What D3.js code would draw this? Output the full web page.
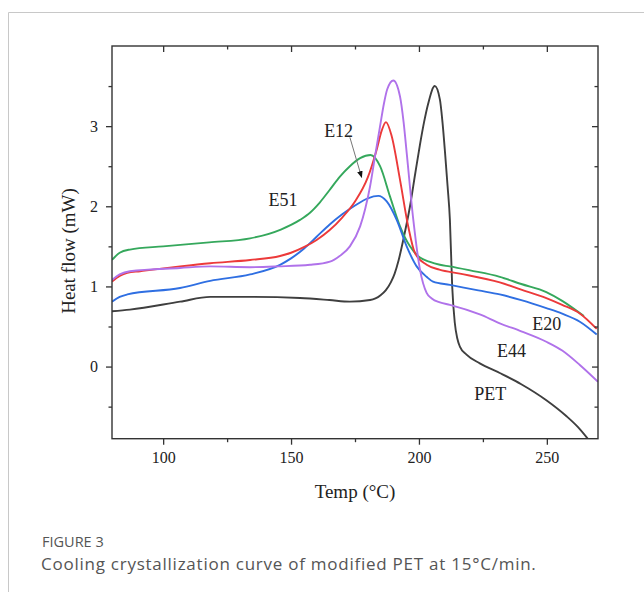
<!DOCTYPE html>
<html>
<head>
  <meta charset="UTF-8">
  <title>Cooling crystallization curve of modified PET</title>
  <script src="https://d3js.org/d3.v7.min.js"></script>
  <style>
    body { margin: 0; background: #fff; }
    svg text { font-family: "Liberation Serif", "Times New Roman", serif; }
  </style>
</head>
<body>
<div id="chart"></div>
<script>
// values (temperature in °C, heat flow in mW)
const e51X = [80, 83, 87, 100, 118, 134, 146, 153.5, 157.4, 161.3, 165, 169.1, 173, 177, 181.1, 184.8, 188.7, 192.6, 196.5, 200.4, 204, 208.2, 212, 220, 231.6, 240, 249.8, 256, 264.5];
const e51Y = [1.33, 1.42, 1.46, 1.50, 1.55, 1.60, 1.71, 1.83, 1.92, 2.05, 2.2, 2.37, 2.5, 2.6, 2.64, 2.5, 2.12, 1.75, 1.50, 1.36, 1.31, 1.27, 1.25, 1.2, 1.12, 1.03, 0.93, 0.82, 0.63];

const e12X = [80, 83, 86, 91, 106.6, 118.4, 134, 145.7, 150, 155, 160, 165, 170, 175, 180, 183.5, 185.5, 187.1, 189.3, 192.6, 195.8, 198.4, 203, 208, 216, 231.6, 240, 249.8, 256, 263, 269.5];
const e12Y = [1.06, 1.13, 1.17, 1.19, 1.25, 1.29, 1.33, 1.38, 1.42, 1.49, 1.58, 1.70, 1.86, 2.06, 2.36, 2.71, 2.95, 3.05, 2.88, 2.33, 1.75, 1.42, 1.27, 1.21, 1.16, 1.05, 0.96, 0.855, 0.77, 0.66, 0.47];

const e20X = [80, 83, 86, 106.6, 118.4, 134, 145.7, 150, 155, 160, 165, 170, 175, 180, 184.1, 187.4, 191.3, 195.2, 199.1, 203, 205.5, 212.1, 223.2, 231.6, 240, 249.8, 256, 262.9, 269.5];
const e20Y = [0.81, 0.87, 0.90, 0.98, 1.07, 1.15, 1.27, 1.35, 1.47, 1.62, 1.77, 1.90, 2.01, 2.10, 2.13, 2.06, 1.83, 1.50, 1.25, 1.12, 1.06, 1.02, 0.95, 0.90, 0.83, 0.73, 0.66, 0.56, 0.40];

const e44X = [80, 83, 87, 106.6, 118.4, 134, 145, 157.4, 165.2, 169, 173, 177, 179, 180.9, 182.8, 184.8, 186.3, 187.6, 190, 192.6, 194, 195.2, 197.8, 200.4, 203, 205, 208.2, 212.1, 223.8, 231.6, 240, 249.8, 256, 262.9, 270];
const e44Y = [1.08, 1.15, 1.19, 1.23, 1.25, 1.24, 1.25, 1.27, 1.31, 1.38, 1.5, 1.75, 1.97, 2.25, 2.62, 3.0, 3.28, 3.46, 3.57, 3.37, 3.05, 2.67, 1.83, 1.21, 0.92, 0.85, 0.80, 0.77, 0.65, 0.54, 0.44, 0.31, 0.20, 0.02, -0.19];

const petX = [80, 87, 106.6, 118.4, 134, 153.5, 165, 173, 180.9, 183, 185, 187, 189, 190.5, 192, 194, 196.5, 198.5, 200.4, 202, 203.6, 206.2, 208.2, 209.2, 210.2, 211.2, 212.1, 213, 214, 215, 216, 218.6, 223.8, 231.6, 240, 249.8, 257.7, 262, 266.5];
const petY = [0.69, 0.71, 0.81, 0.87, 0.87, 0.855, 0.83, 0.81, 0.83, 0.85, 0.89, 0.95, 1.05, 1.16, 1.32, 1.60, 2.0, 2.40, 2.77, 3.05, 3.28, 3.50, 3.33, 3.05, 2.67, 2.25, 1.83, 1.0, 0.55, 0.35, 0.25, 0.15, 0.04, -0.08, -0.22, -0.42, -0.62, -0.75, -0.92];

const seriesNames = ["E51", "E12", "E20", "E44", "PET"];
const seriesColors = ["#35a85c", "#ec3a3a", "#2f6fe2", "#b072ea", "#3f3f3f"];

const xMajor = [100, 150, 200, 250];
const xMinor = [125, 175, 225];
const yMajor = [0, 1, 2, 3];
const yMinor = [-0.5, 0.5, 1.5, 2.5, 3.5];

// curve labels, in data units
const labelText = ["E51", "E12", "E20", "E44", "PET"];
const labelX = [146.9, 168.6, 250, 236.2, 227.9];
const labelY = [2.0, 2.87, 0.46, 0.125, -0.42];

const W = 644, H = 592;
const svg = d3.select("#chart").append("svg")
  .attr("width", W).attr("height", H);

// card border (top and left)
svg.append("path")
  .attr("d", "M8.5," + H + "V12.5H" + W)
  .attr("fill", "none")
  .attr("stroke", "#c8c8c8")
  .attr("stroke-width", 1);

const x = d3.scaleLinear().domain([80, 270]).range([112, 598]);
const y = d3.scaleLinear().domain([-0.9, 4.0]).range([438.7, 46]);
const plotL = x.range()[0], plotR = x.range()[1];
const plotT = y.range()[1], plotB = y.range()[0];

svg.append("clipPath").attr("id", "plotclip")
  .append("rect")
  .attr("x", plotL).attr("y", plotT)
  .attr("width", plotR - plotL).attr("height", plotB - plotT);

const series = [
  [e51X, e51Y], [e12X, e12Y], [e20X, e20Y], [e44X, e44Y], [petX, petY]
];

const line = d3.line()
  .x(d => x(d[0]))
  .y(d => y(d[1]))
  .curve(d3.curveMonotoneX);

// draw order: PET at the back, then the others
const order = [4, 0, 2, 1, 3];
svg.append("g").attr("clip-path", "url(#plotclip)")
  .selectAll("path")
  .data(order)
  .join("path")
  .attr("d", i => line(d3.zip(series[i][0], series[i][1])))
  .attr("fill", "none")
  .attr("stroke", i => seriesColors[i])
  .attr("stroke-width", 1.9)
  .attr("stroke-linejoin", "round");

// axes
function styleAxis(g) {
  g.select(".domain").remove();
  g.selectAll("line").attr("stroke", "#333").attr("stroke-width", 1.3);
  g.selectAll("text")
    .attr("fill", "#222")
    .style("font-family", "'Liberation Serif', 'Times New Roman', serif")
    .style("font-size", "16px");
}

svg.append("g").attr("transform", "translate(0," + plotB + ")")
  .call(d3.axisBottom(x).tickValues(xMajor).tickSize(6).tickPadding(7).tickFormat(d3.format("d")))
  .call(styleAxis);
svg.append("g").attr("transform", "translate(0," + plotB + ")")
  .call(d3.axisBottom(x).tickValues(xMinor).tickSize(3.5).tickFormat(""))
  .call(styleAxis);
svg.append("g").attr("transform", "translate(0," + plotT + ")")
  .call(d3.axisBottom(x).tickValues(xMajor).tickSize(6).tickFormat(""))
  .call(styleAxis);
svg.append("g").attr("transform", "translate(0," + plotT + ")")
  .call(d3.axisBottom(x).tickValues(xMinor).tickSize(3.5).tickFormat(""))
  .call(styleAxis);

svg.append("g").attr("transform", "translate(" + plotL + ",0)")
  .call(d3.axisLeft(y).tickValues(yMajor).tickSize(6).tickPadding(8).tickFormat(d3.format("d")))
  .call(styleAxis);
svg.append("g").attr("transform", "translate(" + plotL + ",0)")
  .call(d3.axisLeft(y).tickValues(yMinor).tickSize(3.5).tickFormat(""))
  .call(styleAxis);
svg.append("g").attr("transform", "translate(" + plotR + ",0)")
  .call(d3.axisLeft(y).tickValues(yMajor).tickSize(6).tickFormat(""))
  .call(styleAxis);
svg.append("g").attr("transform", "translate(" + plotR + ",0)")
  .call(d3.axisLeft(y).tickValues(yMinor).tickSize(3.5).tickFormat(""))
  .call(styleAxis);

// frame
svg.append("rect")
  .attr("x", plotL).attr("y", plotT)
  .attr("width", plotR - plotL).attr("height", plotB - plotT)
  .attr("fill", "none")
  .attr("stroke", "#333")
  .attr("stroke-width", 1.4);

// axis titles
svg.append("text")
  .attr("x", (plotL + plotR) / 2)
  .attr("y", 498)
  .attr("text-anchor", "middle")
  .style("font-size", "19px")
  .attr("fill", "#222")
  .text("Temp (°C)");

svg.append("text")
  .attr("transform", "translate(75," + 251 + ") rotate(-90)")
  .attr("text-anchor", "middle")
  .style("font-size", "19px")
  .attr("fill", "#222")
  .text("Heat flow (mW)");

// curve labels
svg.append("g").selectAll("text")
  .data(labelText)
  .join("text")
  .attr("x", (d, i) => x(labelX[i]))
  .attr("y", (d, i) => y(labelY[i]))
  .attr("text-anchor", "middle")
  .style("font-size", "18px")
  .attr("fill", "#222")
  .text(d => d);

// E12 pointer arrow
svg.append("defs").append("marker")
  .attr("id", "arrowhead")
  .attr("viewBox", "0 0 10 10")
  .attr("refX", 9).attr("refY", 5)
  .attr("markerWidth", 7).attr("markerHeight", 7)
  .attr("markerUnits", "userSpaceOnUse")
  .attr("orient", "auto")
  .append("path")
  .attr("d", "M0,1L10,5L0,9Z")
  .attr("fill", "#111");

svg.append("line")
  .attr("x1", x(173)).attr("y1", y(2.86))
  .attr("x2", x(177.6)).attr("y2", y(2.36))
  .attr("stroke", "#777")
  .attr("stroke-width", 1)
  .attr("marker-end", "url(#arrowhead)");

// caption
svg.append("text")
  .attr("x", 42).attr("y", 547)
  .style("font-family", "'Open Sans', sans-serif")
  .style("font-size", "14.5px")
  .attr("fill", "#555")
  .text("FIGURE 3");

svg.append("text")
  .attr("x", 41).attr("y", 570)
  .style("font-family", "'Open Sans', sans-serif")
  .style("font-size", "17px")
  .style("letter-spacing", "0.75px")
  .attr("fill", "#555")
  .text("Cooling crystallization curve of modified PET at 15°C/min.");
</script>
</body>
</html>
